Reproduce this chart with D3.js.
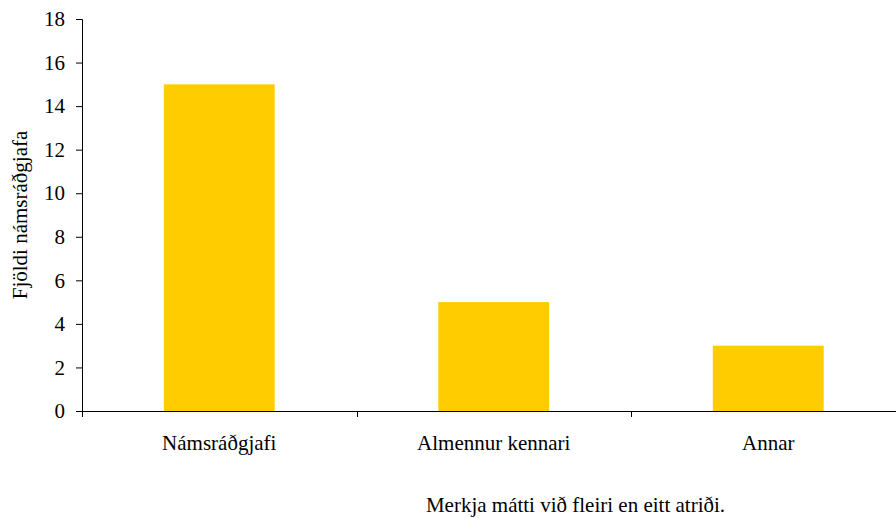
<!DOCTYPE html>
<html><head><meta charset="utf-8">
<script src="https://cdn.jsdelivr.net/npm/d3@7"></script>
<style>body{margin:0;background:#fff}svg{display:block}</style>
</head><body><svg id="c" width="896" height="519"></svg>
<script>
const categories = ["Námsráðgjafi", "Almennur kennari", "Annar"];
const values = [15, 5, 3];
const yTicks = [0, 2, 4, 6, 8, 10, 12, 14, 16, 18];
const yTitle = "Fjöldi námsráðgjafa";
const note = "Merkja mátti við fleiri en eitt atriði.";

const FONT = "Liberation Serif";
const FS = 21;
const svg = d3.select("#c");
const x0 = 82, x1 = 905.5, yBottom = 411, yTop = 19;
const x = d3.scaleBand().domain(categories).range([x0, x1]).paddingInner(0.596).paddingOuter(0.298);
const y = d3.scaleLinear().domain([0, 18]).range([yBottom, yTop]);

svg.selectAll("rect.bar").data(values).join("rect")
  .attr("x", (d, i) => x(categories[i]))
  .attr("width", x.bandwidth())
  .attr("y", d => y(d))
  .attr("height", d => y(0) - y(d))
  .attr("fill", "#FFCC00");

// y axis
const ya = svg.append("g").attr("transform", `translate(${x0},0)`)
  .call(d3.axisLeft(y).tickValues(yTicks).tickSize(6).tickPadding(11).tickFormat(d3.format("d")));
ya.attr("font-family", FONT).attr("font-size", FS);
ya.select(".domain").attr("stroke", "#000").attr("d", `M-6,${yTop}.5H0.5V${yBottom}.5`);
ya.selectAll(".tick line").attr("stroke", "#000");
ya.selectAll(".tick text").attr("fill", "#000");

// x axis
const step = x.step();
const bounds = d3.range(categories.length + 1).map(i => x0 + i * step);
const xa = svg.append("g");
xa.append("line").attr("x1", x0).attr("x2", 896).attr("y1", yBottom + 0.5).attr("y2", yBottom + 0.5).attr("stroke", "#000");
xa.selectAll("line.t").data(bounds).join("line")
  .attr("x1", d => Math.round(d) + 0.5).attr("x2", d => Math.round(d) + 0.5)
  .attr("y1", yBottom).attr("y2", yBottom + 6).attr("stroke", "#000");
xa.selectAll("text").data(categories).join("text")
  .attr("x", d => x(d) + x.bandwidth() / 2)
  .attr("y", 450)
  .attr("text-anchor", "middle")
  .attr("font-family", FONT).attr("font-size", FS)
  .text(d => d);

svg.append("text")
  .attr("transform", "translate(27,215) rotate(-90)")
  .attr("text-anchor", "middle")
  .attr("font-family", FONT).attr("font-size", FS)
  .text(yTitle);

svg.append("text")
  .attr("x", 575.5).attr("y", 512)
  .attr("text-anchor", "middle")
  .attr("font-family", FONT).attr("font-size", FS)
  .text(note);
</script></body></html>
